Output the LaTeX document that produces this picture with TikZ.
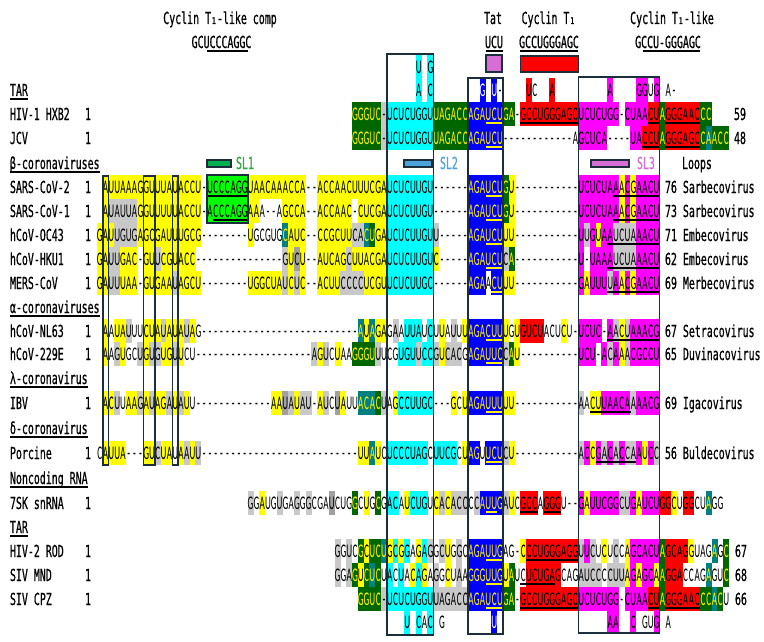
\documentclass[tikz,border=0pt]{standalone}
\usepackage{fontspec}
\newfontfamily\labfont[FakeStretch=0.6,FakeBold=0.6]{DejaVu Sans Mono}
\newfontfamily\seqfont[FakeStretch=0.47]{Carlito}
\usetikzlibrary{calc}
\definecolor{cY}{RGB}{255,255,0}
\definecolor{cLG}{RGB}{200,200,200}
\definecolor{cDG}{RGB}{160,160,160}
\definecolor{cC}{RGB}{0,255,255}
\definecolor{cB}{RGB}{0,0,255}
\definecolor{cG}{RGB}{0,102,0}
\definecolor{cT}{RGB}{0,128,128}
\definecolor{cR}{RGB}{255,0,0}
\definecolor{cM}{RGB}{255,0,255}
\definecolor{cL}{RGB}{0,255,0}
\definecolor{frameC}{RGB}{28,46,60}
\definecolor{slone}{RGB}{0,176,80}
\definecolor{slonet}{RGB}{40,170,60}
\definecolor{sltwo}{RGB}{75,165,220}
\definecolor{slthree}{RGB}{214,110,214}
% ---- alignment machinery ----
\newcount\srcnt
\def\srX{102.7}\def\srP{5.8}\def\srnone{none}
\newcommand\defcode[3]{\expandafter\def\csname srbg#1\endcsname{#2}\expandafter\def\csname srfg#1\endcsname{#3}}
\defcode{y}{cY}{black}\defcode{g}{cLG}{black}\defcode{d}{cDG}{black}
\defcode{c}{cC}{black}\defcode{b}{cB}{yellow}\defcode{B}{cB}{white}
\defcode{G}{cG}{yellow}\defcode{t}{cT}{yellow}\defcode{r}{cR}{black}
\defcode{m}{cM}{black}\defcode{l}{cL}{black}\defcode{.}{none}{black}
\newcommand\seqrow[3]{\def\sry{#1}\global\srcnt=#2\relax #3}
\newcommand\sg[2]{\def\srcode{#1}\srloop#2\relax}
\def\srloop#1{\ifx#1\relax\else\srcell{#1}\global\advance\srcnt by 1\relax\expandafter\srloop\fi}
\newcommand\srcell[1]{%
  \pgfmathsetmacro\srx{\srX+\srP*\the\srcnt}%
  \edef\srbg{\csname srbg\srcode\endcsname}%
  \edef\srfg{\csname srfg\srcode\endcsname}%
  \edef\srname{s\sry x\the\srcnt}%
  \ifx\srbg\srnone\else
    \fill[\srbg] (\srx-0.05,\sry-12.1) rectangle (\srx+\srP+0.05,\sry+12.1);
  \fi
  \node[seqtxt,text=\srfg,name=\srname] at (\srx+\srP/2,\sry+6.3) {#1};}
\newcommand\ulseq[4]{\draw[line width=1.0pt,draw=#4] ({\srX+\srP*(#2)},#1+8.9) -- ({\srX+\srP*(#3+1)},#1+8.9);}
\newcommand\colframe[4]{\draw[frame] ({\srX+\srP*(#1)},#3) rectangle ({\srX+\srP*(#2+1)},#4);}
\begin{document}
\begin{tikzpicture}[x=0.75pt,y=-0.75pt,
  seqtxt/.style={font=\seqfont\fontsize{14.5}{15}\selectfont,anchor=base,inner sep=0pt,outer sep=0pt},
  lab/.style={font=\labfont\fontsize{12.4}{13}\selectfont,anchor=base west,inner sep=0pt,outer sep=0pt},
  labc/.style={lab,anchor=base},
  frame/.style={draw=frameC,line width=1.2pt},
  hline/.style={line width=1.5pt,draw=black}]
\useasboundingbox (0,0) rectangle (764,642);
\fill[white] (0,0) rectangle (764,642);
% ---- top loop letters ----
\seqrow{67}{54}{\sg c{U}}
\seqrow{67}{56}{\sg c{G}}
\seqrow{90}{54}{\sg c{A}}
\seqrow{90}{56}{\sg c{C}}
\seqrow{90}{65}{\sg B{G}}
\seqrow{90}{67}{\sg B{U}\sg .{-}}
\seqrow{90}{73}{\sg r{U}\sg .{C}}
\seqrow{90}{77}{\sg r{A}}
\seqrow{90}{87}{\sg m{A}}
\seqrow{90}{92}{\sg m{GG}\sg .{U}\sg m{G}}
\seqrow{90}{97}{\sg .{A-}}
% ---- HIV-1 HXB2 ----
\seqrow{114}{43}{\sg G{GGGUC}\sg g{-}\sg c{UCUCUGGU}\sg G{UAGACC}\sg b{AGAUCU}\sg G{GA}\sg .{-}\sg r{GCCUGGGAGC}\sg m{UCUCUGG}\sg .{-}\sg m{CUAA}\sg r{CU}\sg G{A}\sg r{GGGAAC}\sg G{CC}}
% ---- JCV ----
\seqrow{138}{43}{\sg G{GGGUC}\sg g{-}\sg c{UCUCUGGU}\sg G{UAGACC}\sg b{AGAUCU}\sg .{------------A}\sg m{GCUCA}\sg .{----}\sg m{UA}\sg r{CCU}\sg G{A}\sg r{GGGAGC}\sg G{C}\sg t{A}\sg G{ACC}}
% ---- SARS-CoV-2 ----
\seqrow{187}{0}{\sg y{AUUAAAGGUUUAUACCU}\sg .{-}\sg l{UCCCAGG}\sg y{UAACAAACCA}\sg .{--}\sg y{ACCAACUUUCGA}\sg c{UCUCUUGU}\sg .{------}\sg b{AGAUCU}\sg G{G}\sg y{U}\sg .{-----------}\sg m{UCUCUAA}\sg y{A}\sg m{C}\sg y{G}\sg m{AACU}}
% ---- SARS-CoV-1 ----
\seqrow{211}{0}{\sg y{A}\sg g{UAUUA}\sg y{GGUUUUUACCU}\sg .{-}\sg l{ACCCAGG}\sg y{AA}\sg .{A--A}\sg y{GCCA}\sg .{--}\sg y{ACCAAC}\sg .{-}\sg y{CUCGA}\sg c{UCUCUUGU}\sg .{------}\sg b{AGAUCU}\sg G{G}\sg y{U}\sg .{-----------}\sg m{UCUCUAA}\sg y{A}\sg m{C}\sg y{G}\sg m{AACU}}
% ---- hCoV-OC43 ----
\seqrow{235}{-1}{\sg y{GAU}\sg g{UGUG}\sg y{AGCGAUUUGCG}\sg .{--------}\sg y{U}\sg .{GCGUG}\sg t{C}\sg y{AUC}\sg .{--}\sg y{CCGCUU}\sg g{CA}\sg t{C}\sg G{U}\sg y{GA}\sg c{UCUCUUGU}\sg g{U}\sg .{-----}\sg b{AGAUCU}\sg y{UU}\sg .{-----------}\sg m{U}\sg g{U}\sg m{G}\sg y{U}\sg m{AA}\sg g{UCUA}\sg m{AACU}}
% ---- hCoV-HKU1 ----
\seqrow{259}{-1}{\sg y{GA}\sg g{UU}\sg y{GAC}\sg .{-}\sg y{GU}\sg g{U}\sg y{CGUACC}\sg .{---------------}\sg g{G}\sg y{U}\sg d{C}\sg y{U}\sg .{--}\sg y{AUCAG}\sg g{C}\sg y{UUACGA}\sg c{UCUCUUGU}\sg y{C}\sg .{-----}\sg b{AGAUCU}\sg g{C}\sg G{A}\sg .{-----------}\sg m{U}\sg .{-}\sg m{UAAA}\sg g{UCUA}\sg m{AACU}}
% ---- MERS-CoV ----
\seqrow{283}{-1}{\sg y{GA}\sg g{UU}\sg y{UAA}\sg .{-}\sg y{GUGAA}\sg g{U}\sg y{AGCU}\sg .{--------}\sg y{UGGCUA}\sg g{U}\sg y{C}\sg g{U}\sg y{C}\sg .{--}\sg y{ACUU}\sg g{CCCC}\sg y{UCGU}\sg c{UCUCUUGC}\sg .{------}\sg b{AGA}\sg .{A}\sg b{CU}\sg y{UU}\sg .{-----------}\sg m{G}\sg y{A}\sg m{UUU}\sg g{U}\sg m{A}\sg y{A}\sg m{C}\sg y{G}\sg m{AACU}}
% ---- hCoV-NL63 ----
\seqrow{331}{0}{\sg y{A}\sg .{A}\sg y{UA}\sg g{U}\sg .{UU}\sg y{CUA}\sg g{U}\sg y{AUA}\sg g{U}\sg y{A}\sg .{G}\sg .{---------------------------}\sg t{A}\sg y{U}\sg t{A}\sg y{GA}\sg .{G}\sg g{A}\sg .{A}\sg c{UUA}\sg .{U}\sg c{C}\sg .{U}\sg y{U}\sg .{A}\sg g{U}\sg .{U}\sg y{U}\sg b{AGACUU}\sg y{U}\sg .{G}\sg y{U}\sg r{GUCU}\sg .{ACU}\sg y{C}\sg .{U-}\sg m{UCUC}\sg .{-}\sg m{A}\sg g{A}\sg y{C}\sg g{U}\sg m{AAACG}}
% ---- hCoV-229E ----
\seqrow{354}{0}{\sg y{A}\sg .{A}\sg g{G}\sg y{U}\sg .{GC}\sg g{U}\sg y{G}\sg g{UG}\sg y{UG}\sg g{U}\sg y{U}\sg .{CU}\sg .{--------------------}\sg g{A}\sg y{G}\sg g{U}\sg .{C}\sg y{U}\sg .{AA}\sg G{GGGU}\sg g{U}\sg .{UCG}\sg c{UGU}\sg g{U}\sg c{CC}\sg g{G}\sg y{U}\sg g{CAC}\sg .{G}\sg b{AGAUUC}\sg g{C}\sg G{A}\sg y{U}\sg .{----------}\sg m{UCU}\sg .{-}\sg m{A}\sg g{C}\sg m{A}\sg y{A}\sg g{A}\sg m{CGCCU}}
% ---- IBV ----
\seqrow{403}{0}{\sg y{AC}\sg g{U}\sg .{U}\sg y{AA}\sg g{G}\sg y{A}\sg g{U}\sg y{AG}\sg g{A}\sg y{U}\sg g{A}\sg y{U}\sg .{U}\sg .{-------------}\sg y{AA}\sg d{U}\sg g{A}\sg y{U}\sg g{AU}\sg .{-}\sg y{A}\sg g{U}\sg .{C}\sg d{U}\sg y{A}\sg .{UU}\sg t{ACA}\sg G{C}\sg g{U}\sg .{A}\sg y{G}\sg c{CCUUGC}\sg .{---}\sg y{G}\sg .{C}\sg y{U}\sg b{AGAUUU}\sg y{UU}\sg .{-----------}\sg g{A}\sg .{A}\sg y{CU}\sg m{UAACA}\sg g{A}\sg m{AACG}}
% ---- Porcine ----
\seqrow{453}{-1}{\sg .{C}\sg y{AUUA}\sg .{---}\sg y{GU}\sg g{C}\sg y{UA}\sg .{U}\sg y{A}\sg g{A}\sg y{U}\sg g{U}\sg .{---------------------------}\sg y{UU}\sg t{A}\sg y{U}\sg .{C}\sg c{UCCCUAG}\sg .{C}\sg c{UUCG}\sg .{C}\sg y{U}\sg b{AG}\sg .{U}\sg b{UCU}\sg g{C}\sg y{U}\sg .{-----------}\sg g{A}\sg m{C}\sg y{C}\sg m{G}\sg g{A}\sg m{C}\sg g{A}\sg m{C}\sg g{CA}\sg m{A}\sg y{U}\sg m{C}\sg g{C}}
% ---- 7SK snRNA ----
\seqrow{503}{25}{\sg g{G}\sg .{G}\sg y{A}\sg .{UG}\sg g{U}\sg .{GA}\sg g{G}\sg .{G}\sg g{G}\sg .{CGA}\sg d{U}\sg .{CUG}\sg G{G}\sg .{C}\sg y{U}\sg .{G}\sg G{C}\sg .{G}\sg c{AC}\sg .{A}\sg y{U}\sg c{CUG}\sg .{U}\sg y{C}\sg g{A}\sg y{C}\sg g{A}\sg g{CC}\sg .{C}\sg g{C}\sg b{AUUG}\sg g{A}\sg y{U}\sg .{C}\sg r{GCC}\sg .{A}\sg r{GGG}\sg .{U--}\sg m{G}\sg y{A}\sg m{UUCGG}\sg g{CU}\sg m{G}\sg y{A}\sg m{UCU}\sg r{GG}\sg y{C}\sg .{U}\sg r{GG}\sg .{CU}\sg t{A}\sg .{GG}}
% ---- HIV-2 ROD ----
\seqrow{551}{40}{\sg g{G}\sg .{G}\sg g{U}\sg .{C}\sg G{G}\sg y{C}\sg G{UC}\sg t{U}\sg y{G}\sg c{C}\sg y{G}\sg c{G}\sg .{A}\sg y{G}\sg c{A}\sg g{G}\sg .{G}\sg g{C}\sg y{U}\sg .{G}\sg g{G}\sg .{C}\sg b{AGAUUG}\sg .{AG-}\sg y{C}\sg r{CCUGGGAGG}\sg g{U}\sg m{U}\sg g{C}\sg .{U}\sg y{C}\sg .{U}\sg g{C}\sg .{C}\sg y{A}\sg m{GCACU}\sg G{A}\sg r{GCAG}\sg y{G}\sg .{UAG}\sg t{A}\sg .{G}\sg G{C}}
% ---- SIV MND ----
\seqrow{575}{40}{\sg g{G}\sg .{G}\sg g{A}\sg G{G}\sg y{U}\sg G{C}\sg t{U}\sg G{C}\sg .{U}\sg c{A}\sg .{C}\sg c{U}\sg .{A}\sg y{C}\sg c{A}\sg y{G}\sg .{A}\sg g{G}\sg .{G}\sg y{C}\sg .{U}\sg g{A}\sg .{A}\sg b{GGGUUG}\sg y{U}\sg G{A}\sg .{UC}\sg r{UCUGAG}\sg .{CAG}\sg g{AUCC}\sg .{C}\sg g{CUU}\sg y{A}\sg m{G}\sg y{A}\sg m{GC}\sg y{A}\sg G{A}\sg r{GGA}\sg .{CCAG}\sg t{A}\sg .{GU}\sg G{C}}
% ---- SIV CPZ ----
\seqrow{599}{44}{\sg G{GGUC}\sg g{-}\sg c{UCUCUGGU}\sg g{UAGACC}\sg b{AGAUCU}\sg G{GA}\sg .{-}\sg r{GCCUGGGAGC}\sg m{UCUCUGG}\sg .{-}\sg m{CUAA}\sg r{CU}\sg G{A}\sg r{GGGAAC}\sg G{CC}\sg t{A}\sg G{C}\sg .{U}}
% ---- bottom loop letters ----
\seqrow{622}{52}{\sg c{U}}
\seqrow{622}{54}{\sg c{C}\sg .{A}\sg c{C}}
\seqrow{622}{58}{\sg .{G}}
\seqrow{622}{67}{\sg B{U}}
\seqrow{622}{87}{\sg m{AA}}
\seqrow{622}{91}{\sg m{C}}
\seqrow{622}{93}{\sg .{GU}\sg m{G}}
\seqrow{622}{97}{\sg .{A}}
% ---- underlines ----
\ulseq{114}{66}{68}{yellow}\ulseq{114}{72}{81}{black}\ulseq{114}{94}{95}{black}\ulseq{114}{97}{102}{black}
\ulseq{138}{66}{68}{yellow}\ulseq{138}{93}{95}{black}\ulseq{138}{97}{102}{black}
\ulseq{187}{18}{24}{black}\ulseq{187}{66}{68}{yellow}\ulseq{187}{88}{95}{black}
\ulseq{211}{19}{24}{black}\ulseq{211}{66}{68}{yellow}\ulseq{211}{88}{95}{black}
\ulseq{235}{66}{68}{yellow}\ulseq{235}{87}{95}{black}
\ulseq{259}{66}{68}{yellow}\ulseq{259}{87}{95}{black}
\ulseq{283}{67}{68}{yellow}\ulseq{283}{87}{95}{black}
\ulseq{331}{66}{68}{yellow}\ulseq{331}{87}{95}{black}
\ulseq{354}{66}{68}{yellow}
\ulseq{403}{66}{68}{yellow}\ulseq{403}{84}{90}{black}
\ulseq{453}{66}{68}{yellow}\ulseq{453}{85}{91}{black}
\ulseq{503}{66}{67}{yellow}\ulseq{503}{72}{74}{black}\ulseq{503}{76}{78}{black}
\ulseq{551}{66}{68}{yellow}\ulseq{551}{73}{81}{black}
\ulseq{575}{66}{68}{yellow}\ulseq{575}{72}{77}{black}
\ulseq{599}{66}{68}{yellow}\ulseq{599}{72}{81}{black}\ulseq{599}{94}{95}{black}\ulseq{599}{97}{102}{black}
% ---- frames ----
\colframe{49}{56}{54}{635}
\colframe{63}{68}{78}{634}
\colframe{82}{95}{77}{633}
\colframe{0}{0}{176}{465}
\colframe{7}{8}{176}{465}
\colframe{12}{12}{176}{465}
\colframe{18}{24}{175}{223}
% ---- header ----
\node[labc] (hA) at (220,24) {Cyclin T₁-like comp};
\node[labc] (hAs) at (221.5,48) {GCUCCCAGGC};
\draw[hline] (207,51.5) -- (248,51.5);
\node[labc] (hB) at (493,24) {Tat};
\node[labc] (hBs) at (494,48) {UCU};
\draw[hline] (485.5,51.5) -- (502.5,51.5);
\node[labc] (hC) at (548.5,24) {Cyclin T₁};
\node[labc] (hCs) at (549,48) {GCCUGGGAGC};
\draw[hline] (520,51.5) -- (578,51.5);
\node[labc] (hD) at (672,24) {Cyclin T₁-like};
\node[labc] (hDs) at (668,48) {GCCU-GGGAGC};
\draw[hline] (643,51.5) -- (700,51.5);
\draw[frame,fill=slthree] (486,55) rectangle (502,72);
\draw[frame,fill=cR] (520.3,56) rectangle (578.3,72);
% ---- SL markers ----
\draw[frame,fill=slone] (207,160) rectangle (231,167);
\node[lab,text=slonet] (sl1) at (236,169) {SL1};
\draw[frame,fill=sltwo] (404,160) rectangle (432,167);
\node[lab,text=sltwo] (sl2) at (440,169) {SL2};
\draw[frame,fill=slthree] (591,160) rectangle (629,167);
\node[lab,text=slthree] (sl3) at (637,169) {SL3};
\node[labc] (loops) at (697,169) {Loops};
% ---- group headings ----
\foreach \nm/\yy/\tx in {g1/96/TAR,g2/169/β-coronaviruses,g3/313/α-coronaviruses,g4/384/λ-coronavirus,g5/434/δ-coronavirus,g6/484/Noncoding RNA,g7/533/TAR}{
  \node[lab] (\nm) at (10,\yy) {\tx};
  \draw[hline] ([yshift=-2.6pt]\nm.base west) -- ([yshift=-2.6pt]\nm.base east);
}
% ---- row labels ----
\foreach \nm/\yy/\tx in {r1/120/HIV-1 HXB2,r2/144/JCV,r3/193/SARS-CoV-2,r4/217/SARS-CoV-1,r5/241/hCoV-OC43,r6/265/hCoV-HKU1,r7/289/MERS-CoV,r8/337/hCoV-NL63,r9/360/hCoV-229E,r10/409/IBV,r11/459/Porcine,r12/509/7SK snRNA,r13/557/HIV-2 ROD,r14/581/SIV MND,r15/605/SIV CPZ}{
  \node[lab] (\nm) at (10,\yy) {\tx};
  \node[labc] (\nm o) at (88,\yy) {1};
}
% ---- end numbers ----
\node[labc] (e1) at (740,120) {59};
\node[labc] (e2) at (740,144) {48};
\node[lab] (e3) at (665,193) {76 Sarbecovirus};
\node[lab] (e4) at (665,217) {73 Sarbecovirus};
\node[lab] (e5) at (665,241) {71 Embecovirus};
\node[lab] (e6) at (665,265) {62 Embecovirus};
\node[lab] (e7) at (665,289) {69 Merbecovirus};
\node[lab] (e8) at (665,337) {67 Setracovirus};
\node[lab] (e9) at (665,360) {65 Duvinacovirus};
\node[lab] (e10) at (665,409) {69 Igacovirus};
\node[lab] (e11) at (665,459) {56 Buldecovirus};
\node[labc] (e13) at (741,557) {67};
\node[labc] (e14) at (741,581) {68};
\node[labc] (e15) at (741,605) {66};
\end{tikzpicture}
\end{document}
